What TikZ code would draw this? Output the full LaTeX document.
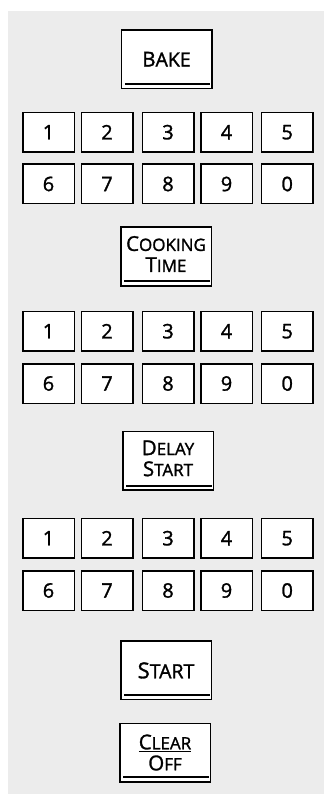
\documentclass[tikz,border=0pt]{standalone}
\usepackage{fontspec}
\setmainfont{Open Sans}[BoldFont=*, BoldFeatures={FakeBold=1.4}]
\usepackage{xcolor}
\usetikzlibrary{positioning}
\definecolor{panelgray}{RGB}{236,236,236}
\newcommand{\keycap}[3][20.5]{{\fontsize{#1}{21}\selectfont #2}#3}
\newcommand{\lift}{\rule[-5pt]{0pt}{0pt}}

\begin{document}
\begin{tikzpicture}[
  x=1pt, y=-1pt,
  numkey/.style={rectangle, draw=black, fill=white, line width=1.5pt,
                 minimum width=51.5pt, minimum height=39.5pt,
                 inner sep=0pt, font=\fontsize{20}{20}\selectfont\bfseries},
  fnkey/.style={rectangle, draw=black, fill=white, line width=1.5pt,
                minimum width=90.5pt, minimum height=58.5pt,
                inner sep=0pt, align=center, font=\fontsize{17}{21}\selectfont\bfseries,
                path picture={\draw[line width=2pt]
                  ([xshift=3.5pt,yshift=4.3pt]path picture bounding box.south west) --
                  ([xshift=-1.5pt,yshift=4.3pt]path picture bounding box.south east);}},
  bigkey/.style={fnkey, font=\fontsize{19.5}{21}\selectfont\bfseries}
]
\useasboundingbox (0,0) rectangle (324,794);
\fill[panelgray] (8,11) rectangle (324,794);
% bake
\node[bigkey] (bake) at (166.5, 59.2) {\keycap[20.5]{B}{AKE}};
\node[numkey] (bk1) at (48.5, 132.2) {1};  \node[numkey] (bk2) at (107, 132.2) {2};
\node[numkey] (bk3) at (168, 132.2) {3};   \node[numkey] (bk4) at (226.5, 132.2) {4};
\node[numkey] (bk5) at (287.2, 132.2) {5};
\node[numkey] (bk6) at (48.5, 184) {6};    \node[numkey] (bk7) at (107, 184) {7};
\node[numkey] (bk8) at (168, 184) {8};     \node[numkey] (bk9) at (226.5, 184) {9};
\node[numkey] (bk0) at (287.2, 184) {0};
% cooking time
\node[fnkey] (cook) at (166, 256.5) {\keycap{C}{OOKING}\\\keycap{T}{IME}\lift};
\node[numkey] (ct1) at (48.5, 331.2) {1};  \node[numkey] (ct2) at (107, 331.2) {2};
\node[numkey] (ct3) at (168, 331.2) {3};   \node[numkey] (ct4) at (226.5, 331.2) {4};
\node[numkey] (ct5) at (287.2, 331.2) {5};
\node[numkey] (ct6) at (48.5, 383.5) {6};  \node[numkey] (ct7) at (107, 383.5) {7};
\node[numkey] (ct8) at (168, 383.5) {8};   \node[numkey] (ct9) at (226.5, 383.5) {9};
\node[numkey] (ct0) at (287.2, 383.5) {0};
% delay start
\node[fnkey] (delay) at (168, 460.8) {\keycap{D}{ELAY}\\\keycap{S}{TART}\lift};
\node[numkey] (ds1) at (48.5, 538.2) {1};  \node[numkey] (ds2) at (107, 538.2) {2};
\node[numkey] (ds3) at (168, 538.2) {3};   \node[numkey] (ds4) at (226.5, 538.2) {4};
\node[numkey] (ds5) at (287.2, 538.2) {5};
\node[numkey] (ds6) at (48.5, 590.5) {6};  \node[numkey] (ds7) at (107, 590.5) {7};
\node[numkey] (ds8) at (168, 590.5) {8};   \node[numkey] (ds9) at (226.5, 590.5) {9};
\node[numkey] (ds0) at (287.2, 590.5) {0};
% start, clear/off
\node[bigkey] (start) at (166, 670.4) {\keycap[22]{S}{TART}};
\node[fnkey] (clear) at (165, 752.5) {\underline{\keycap{C}{LEAR}}\\\keycap{O}{FF}};
\end{tikzpicture}
\end{document}
